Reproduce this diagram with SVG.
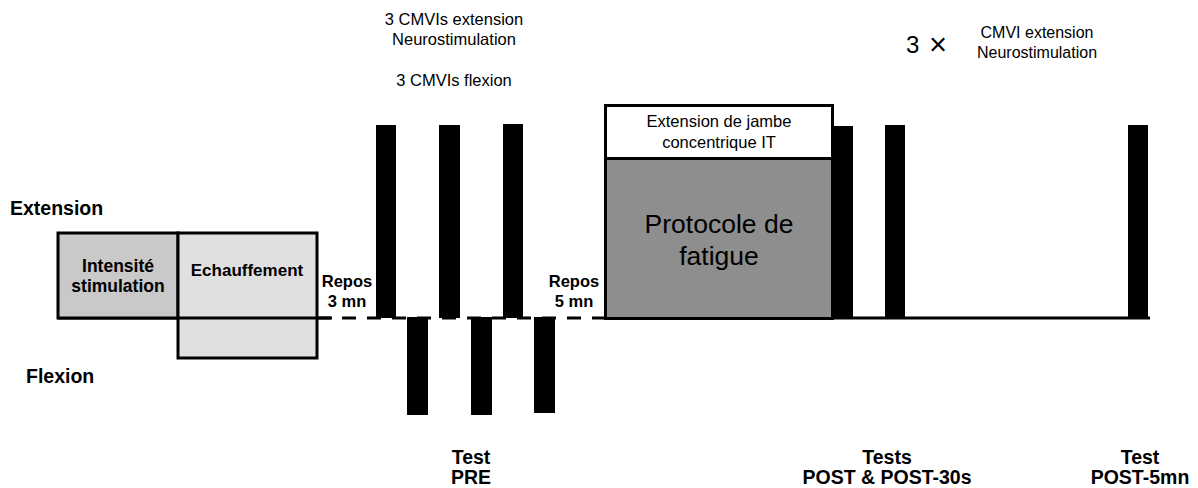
<svg xmlns="http://www.w3.org/2000/svg" width="1198" height="488" viewBox="0 0 1198 488">
  <style>
    .t { font-family: "Liberation Sans", Arial, Helvetica, sans-serif; fill: #000; }
    .b { font-weight: bold; }
    .mid { text-anchor: middle; }
    .box { stroke: #000; stroke-width: 3; }
    .bar { fill: #000; }
    .axis { stroke: #000; stroke-width: 3; fill: none; }
  </style>

  <!-- timeline axis -->
  <g id="connectors">
    <line class="axis" x1="58" y1="318" x2="317" y2="318"/>
    <line class="axis" x1="317" y1="318" x2="605" y2="318" stroke-dasharray="14 11"/>
    <line class="axis" x1="833" y1="318" x2="1150" y2="318"/>
  </g>

  <!-- row labels -->
  <g id="label-extension">
    <text class="t b" x="10" y="215" font-size="19.5">Extension</text>
  </g>
  <g id="label-flexion">
    <text class="t b" x="26" y="383" font-size="19.5">Flexion</text>
  </g>

  <!-- preparation phases -->
  <g id="node-intensite">
    <rect class="box" x="58" y="233" width="120" height="85" fill="#c9c9c9"/>
    <text class="t b mid" x="118" y="272" font-size="17.5">Intensité</text>
    <text class="t b mid" x="118" y="292" font-size="17.5">stimulation</text>
  </g>
  <g id="node-echauffement">
    <rect class="box" x="178" y="233" width="139" height="125" fill="#e0e0e0"/>
    <line class="axis" x1="178" y1="318" x2="332" y2="318"/>
    <text class="t b mid" x="247" y="276" font-size="17">Echauffement</text>
  </g>

  <g id="repos-3">
    <text class="t b mid" x="347" y="287" font-size="16.5">Repos</text>
    <text class="t b mid" x="347" y="307" font-size="16.5">3 mn</text>
  </g>

  <!-- PRE test block -->
  <g id="test-pre">
    <text class="t mid" x="454" y="25" font-size="16.5">3 CMVIs extension</text>
    <text class="t mid" x="454" y="45" font-size="16.5">Neurostimulation</text>
    <text class="t mid" x="454" y="86" font-size="16.5">3 CMVIs flexion</text>
    <rect class="bar" x="376" y="125" width="20" height="193"/>
    <rect class="bar" x="439" y="125" width="21" height="193"/>
    <rect class="bar" x="503" y="124" width="20" height="194"/>
    <rect class="bar" x="407" y="317" width="21" height="98"/>
    <rect class="bar" x="471" y="317" width="21" height="98"/>
    <rect class="bar" x="534" y="317" width="21" height="96"/>
    <text class="t b mid" x="471" y="464" font-size="19.5">Test</text>
    <text class="t b mid" x="471" y="484" font-size="19.5">PRE</text>
  </g>

  <g id="repos-5">
    <text class="t b mid" x="574" y="287" font-size="16.5">Repos</text>
    <text class="t b mid" x="574" y="307" font-size="16.5">5 mn</text>
  </g>

  <!-- fatigue protocol -->
  <g id="node-protocole">
    <rect class="box" x="605.5" y="105.5" width="227" height="53" fill="#fff"/>
    <rect class="box" x="605.5" y="158.5" width="227" height="160" fill="#8e8e8e"/>
    <text class="t mid" x="719" y="127" font-size="16.5">Extension de jambe</text>
    <text class="t mid" x="719" y="148" font-size="16.5">concentrique IT</text>
    <text class="t mid" x="719" y="233" font-size="26.5" fill="#111">Protocole de</text>
    <text class="t mid" x="719" y="265" font-size="26.5" fill="#111">fatigue</text>
  </g>

  <!-- POST tests -->
  <g id="test-post">
    <text class="t" x="906" y="53" font-size="24">3</text>
    <text class="t" x="929" y="55" font-size="31">×</text>
    <text class="t mid" x="1037" y="38" font-size="16">CMVI extension</text>
    <text class="t mid" x="1037" y="58" font-size="16">Neurostimulation</text>
    <rect class="bar" x="833" y="126" width="20" height="192"/>
    <rect class="bar" x="885" y="125" width="20" height="193"/>
    <text class="t b mid" x="887" y="464" font-size="19.5">Tests</text>
    <text class="t b mid" x="887" y="484" font-size="19.5">POST &amp; POST-30s</text>
  </g>
  <g id="test-post-5">
    <rect class="bar" x="1128" y="125" width="20" height="193"/>
    <text class="t b mid" x="1140" y="464" font-size="19.5">Test</text>
    <text class="t b mid" x="1140" y="484" font-size="19.5">POST-5mn</text>
  </g>
</svg>
